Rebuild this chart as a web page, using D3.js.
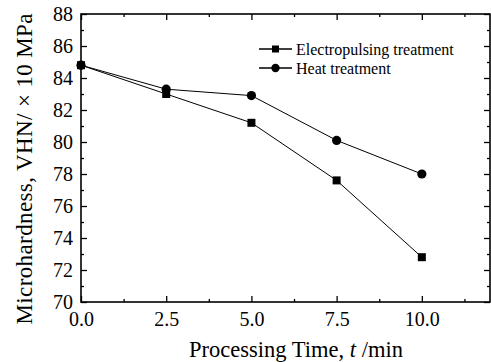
<!DOCTYPE html>
<html>
<head>
<meta charset="utf-8">
<script src="https://cdn.jsdelivr.net/npm/d3@7"></script>
<style>
  body { margin: 0; background: #fff; }
</style>
</head>
<body>
<svg id="chart" width="491" height="362"></svg>
<script>
// chart data
var times = [0, 2.5, 5, 7.5, 10];
var electro = [84.8, 83.0, 81.2, 77.6, 72.8];
var heat = [84.8, 83.3, 82.9, 80.1, 78.0];
var xTicks = [0, 2.5, 5, 7.5, 10];
var yTicks = [70, 72, 74, 76, 78, 80, 82, 84, 86, 88];
var seriesNames = ["Electropulsing treatment", "Heat treatment"];

var FONT = "'Liberation Serif', 'Times New Roman', Times, serif";

var svg = d3.select("#chart");
// plot box (window.top is reserved, so use other names)
var pLeft = 81, pRight = 490, pTop = 14, pBottom = 302;

var x = d3.scaleLinear().domain([0, 12]).range([pLeft, pRight]);
var y = d3.scaleLinear().domain([70, 88]).range([pBottom, pTop]);

// minor ticks
var xMinor = d3.range(0, 12.01, 1.25).filter(function(v){ return xTicks.indexOf(v) < 0; });
var yMinor = d3.range(71, 88, 2);

function styleAxis(g) {
  g.attr("font-family", null).attr("font-size", null);
  g.selectAll("path").remove();
  g.selectAll("line").attr("stroke", "#000").attr("stroke-width", 1.3);
  g.selectAll("text").style("font-family", FONT).style("font-size", "20px").attr("fill", "#000");
}

// bottom axis
svg.append("g").attr("transform", "translate(0," + pBottom + ")")
  .call(d3.axisBottom(x).tickValues(xTicks).tickSize(-6).tickPadding(10).tickFormat(d3.format(".1f")))
  .call(styleAxis);
svg.append("g").attr("transform", "translate(0," + pBottom + ")")
  .call(d3.axisBottom(x).tickValues(xMinor).tickSize(-3).tickFormat(""))
  .call(styleAxis);
// top axis
svg.append("g").attr("transform", "translate(0," + pTop + ")")
  .call(d3.axisTop(x).tickValues(xTicks).tickSize(-6).tickFormat(""))
  .call(styleAxis);
svg.append("g").attr("transform", "translate(0," + pTop + ")")
  .call(d3.axisTop(x).tickValues(xMinor).tickSize(-3).tickFormat(""))
  .call(styleAxis);
// left axis
svg.append("g").attr("transform", "translate(" + pLeft + ",0)")
  .call(d3.axisLeft(y).tickValues(yTicks).tickSize(-6).tickPadding(8))
  .call(styleAxis);
svg.append("g").attr("transform", "translate(" + pLeft + ",0)")
  .call(d3.axisLeft(y).tickValues(yMinor).tickSize(-3).tickFormat(""))
  .call(styleAxis);
// right axis
svg.append("g").attr("transform", "translate(" + pRight + ",0)")
  .call(d3.axisRight(y).tickValues(yTicks).tickSize(-6).tickFormat(""))
  .call(styleAxis);
svg.append("g").attr("transform", "translate(" + pRight + ",0)")
  .call(d3.axisRight(y).tickValues(yMinor).tickSize(-3).tickFormat(""))
  .call(styleAxis);

// frame
svg.append("rect")
  .attr("x", pLeft).attr("y", pTop)
  .attr("width", pRight - pLeft).attr("height", pBottom - pTop)
  .attr("fill", "none").attr("stroke", "#000").attr("stroke-width", 1.6);

// lines
var line = d3.line()
  .x(function(d, i){ return x(times[i]); })
  .y(function(d){ return y(d); });

svg.append("path").datum(electro).attr("d", line)
  .attr("fill", "none").attr("stroke", "#000").attr("stroke-width", 1);
svg.append("path").datum(heat).attr("d", line)
  .attr("fill", "none").attr("stroke", "#000").attr("stroke-width", 1);

// markers
svg.selectAll(".sq").data(electro).enter().append("rect")
  .attr("x", function(d, i){ return x(times[i]) - 4; })
  .attr("y", function(d){ return y(d) - 4; })
  .attr("width", 8).attr("height", 8).attr("fill", "#000");
svg.selectAll(".ci").data(heat).enter().append("circle")
  .attr("cx", function(d, i){ return x(times[i]); })
  .attr("cy", function(d){ return y(d); })
  .attr("r", 4.6).attr("fill", "#000");

// legend
var leg = svg.append("g").attr("transform", "translate(259,49)");
seriesNames.forEach(function(name, i) {
  var row = leg.append("g").attr("transform", "translate(0," + (i * 19) + ")");
  row.append("line").attr("x1", 0).attr("x2", 33).attr("y1", 0).attr("y2", 0)
    .attr("stroke", "#000").attr("stroke-width", 1.3);
  if (i == 0) {
    row.append("rect").attr("x", 16.5 - 3.5).attr("y", -3.5).attr("width", 7).attr("height", 7).attr("fill", "#000");
  } else {
    row.append("circle").attr("cx", 16.5).attr("cy", 0).attr("r", 4.2).attr("fill", "#000");
  }
  row.append("text").attr("x", 37).attr("y", 5.5)
    .style("font-family", FONT).style("font-size", "16px").text(name);
});

// axis titles
var xt = svg.append("text")
  .attr("x", 296).attr("y", 357)
  .attr("text-anchor", "middle")
  .style("font-family", FONT).style("font-size", "22.5px");
xt.append("tspan").text("Processing Time, ");
xt.append("tspan").style("font-style", "italic").text("t");
xt.append("tspan").text(" /min");

svg.append("text")
  .attr("transform", "translate(32,169) rotate(-90)")
  .attr("text-anchor", "middle")
  .style("font-family", FONT).style("font-size", "23px")
  .attr("textLength", 311)
  .text("Microhardness, VHN/ \u00d7 10 MPa");
</script>
</body>
</html>
